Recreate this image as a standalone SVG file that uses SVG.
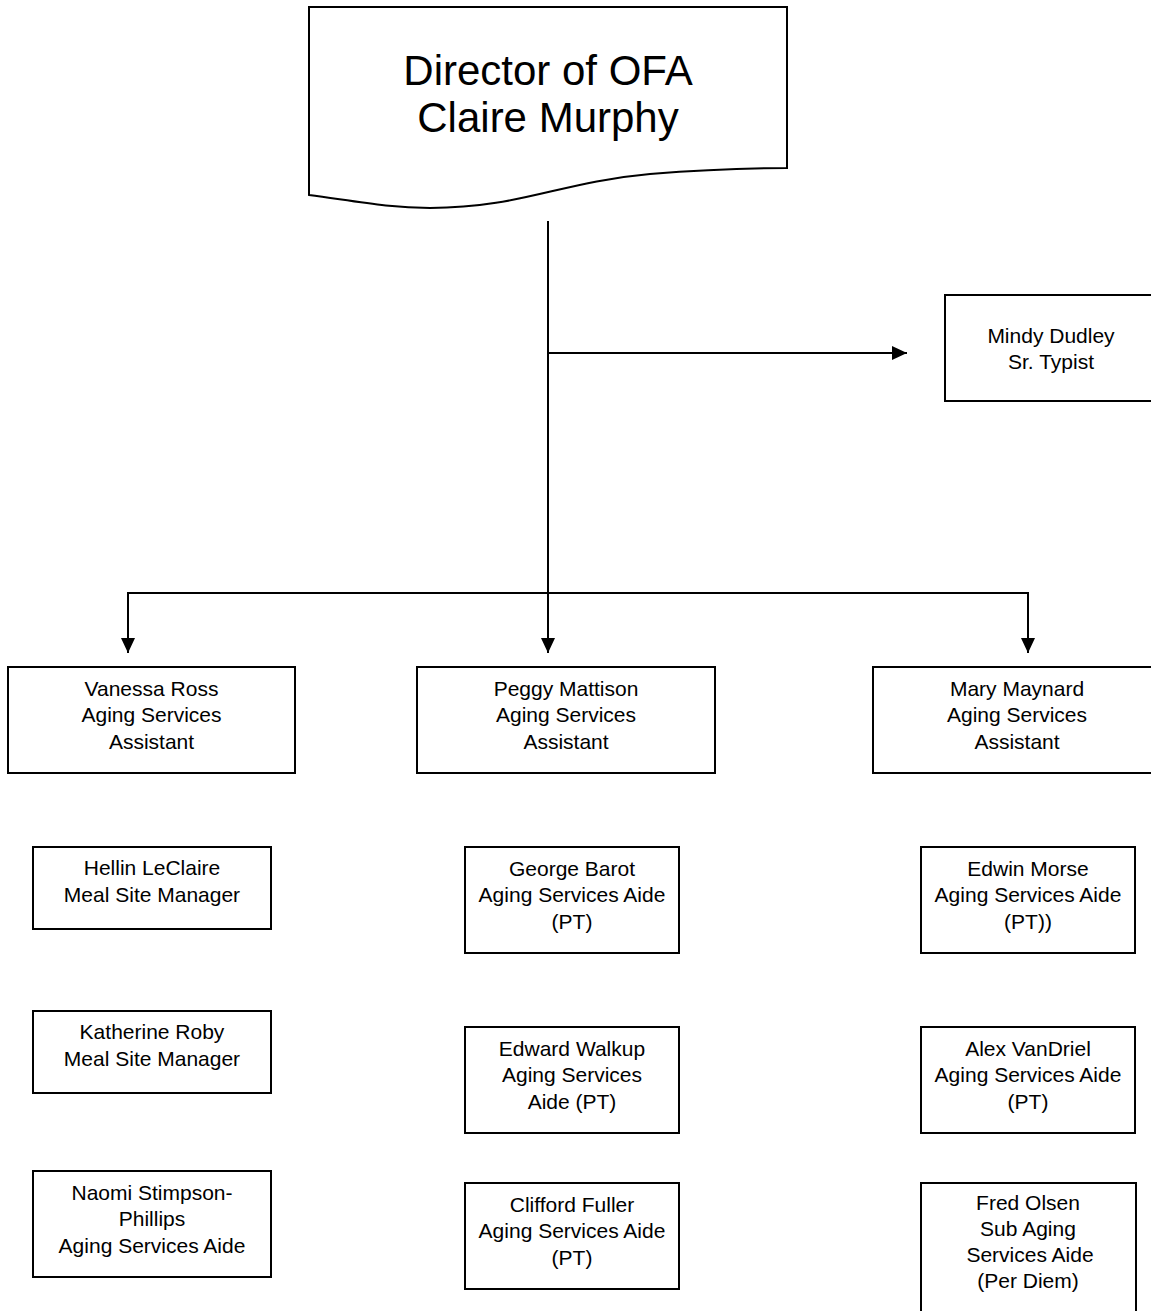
<svg xmlns="http://www.w3.org/2000/svg" width="1151" height="1311" viewBox="0 0 1151 1311">
<style>
.box{fill:#fff;stroke:#000;stroke-width:2}
.t{font-family:"Liberation Sans",Arial,sans-serif;font-size:21px;fill:#000;text-anchor:middle}
.big{font-family:"Liberation Sans",Arial,sans-serif;font-size:42px;fill:#000;text-anchor:middle}
.ln{fill:none;stroke:#000;stroke-width:2}
</style>
<defs>
<marker id="arr" markerUnits="userSpaceOnUse" markerWidth="16" markerHeight="14" refX="15" refY="7" orient="auto">
<path d="M0,0 L15,7 L0,14 Z" fill="#000"/>
</marker>
</defs>
<rect width="1151" height="1311" fill="#fff"/>
<g id="connectors">
<line class="ln" x1="548" y1="221" x2="548" y2="653" marker-end="url(#arr)"/>
<line class="ln" x1="548" y1="353" x2="907" y2="353" marker-end="url(#arr)"/>
<line class="ln" x1="128" y1="593" x2="1028" y2="593"/>
<line class="ln" x1="128" y1="592" x2="128" y2="653" marker-end="url(#arr)"/>
<line class="ln" x1="1028" y1="592" x2="1028" y2="653" marker-end="url(#arr)"/>
</g>
<g id="director">
<path class="box" d="M309,7 H787 V168 C760,168 710,169 650,174 C560,182 520,208 430,208 C390,208 360,202 309,195 Z"/>
<text class="big" x="548" y="85">Director of OFA</text>
<text class="big" x="548" y="132">Claire Murphy</text>
</g>
<g id="mindy">
<rect class="box" x="945" y="295" width="212" height="106"/>
<text class="t" x="1051" y="343">Mindy Dudley</text>
<text class="t" x="1051" y="369">Sr. Typist</text>
</g>
<g id="vanessa">
<rect class="box" x="8" y="667" width="287" height="106"/>
<text class="t" x="151.5" y="695.5">Vanessa Ross</text>
<text class="t" x="151.5" y="722">Aging Services</text>
<text class="t" x="151.5" y="748.5">Assistant</text>
</g>
<g id="peggy">
<rect class="box" x="417" y="667" width="298" height="106"/>
<text class="t" x="566" y="695.5">Peggy Mattison</text>
<text class="t" x="566" y="722">Aging Services</text>
<text class="t" x="566" y="748.5">Assistant</text>
</g>
<g id="mary">
<rect class="box" x="873" y="667" width="288" height="106"/>
<text class="t" x="1017" y="695.5">Mary Maynard</text>
<text class="t" x="1017" y="722">Aging Services</text>
<text class="t" x="1017" y="748.5">Assistant</text>
</g>
<g id="hellin">
<rect class="box" x="33" y="847" width="238" height="82"/>
<text class="t" x="152" y="875">Hellin LeClaire</text>
<text class="t" x="152" y="902">Meal Site Manager</text>
</g>
<g id="katherine">
<rect class="box" x="33" y="1011" width="238" height="82"/>
<text class="t" x="152" y="1039">Katherine Roby</text>
<text class="t" x="152" y="1066">Meal Site Manager</text>
</g>
<g id="naomi">
<rect class="box" x="33" y="1171" width="238" height="106"/>
<text class="t" x="152" y="1199.5">Naomi Stimpson-</text>
<text class="t" x="152" y="1226">Phillips</text>
<text class="t" x="152" y="1252.5">Aging Services Aide</text>
</g>
<g id="george">
<rect class="box" x="465" y="847" width="214" height="106"/>
<text class="t" x="572" y="875.5">George Barot</text>
<text class="t" x="572" y="902">Aging Services Aide</text>
<text class="t" x="572" y="928.5">(PT)</text>
</g>
<g id="edward">
<rect class="box" x="465" y="1027" width="214" height="106"/>
<text class="t" x="572" y="1055.5">Edward Walkup</text>
<text class="t" x="572" y="1082">Aging Services</text>
<text class="t" x="572" y="1108.5">Aide (PT)</text>
</g>
<g id="clifford">
<rect class="box" x="465" y="1183" width="214" height="106"/>
<text class="t" x="572" y="1211.5">Clifford Fuller</text>
<text class="t" x="572" y="1238">Aging Services Aide</text>
<text class="t" x="572" y="1264.5">(PT)</text>
</g>
<g id="edwin">
<rect class="box" x="921" y="847" width="214" height="106"/>
<text class="t" x="1028" y="875.5">Edwin Morse</text>
<text class="t" x="1028" y="902">Aging Services Aide</text>
<text class="t" x="1028" y="928.5">(PT))</text>
</g>
<g id="alex">
<rect class="box" x="921" y="1027" width="214" height="106"/>
<text class="t" x="1028" y="1055.5">Alex VanDriel</text>
<text class="t" x="1028" y="1082">Aging Services Aide</text>
<text class="t" x="1028" y="1108.5">(PT)</text>
</g>
<g id="fred">
<rect class="box" x="921" y="1183" width="215" height="140"/>
<text class="t" x="1028" y="1210">Fred Olsen</text>
<text class="t" x="1028" y="1236">Sub Aging</text>
<text class="t" x="1030" y="1262">Services Aide</text>
<text class="t" x="1028" y="1288">(Per Diem)</text>
</g>
</svg>
